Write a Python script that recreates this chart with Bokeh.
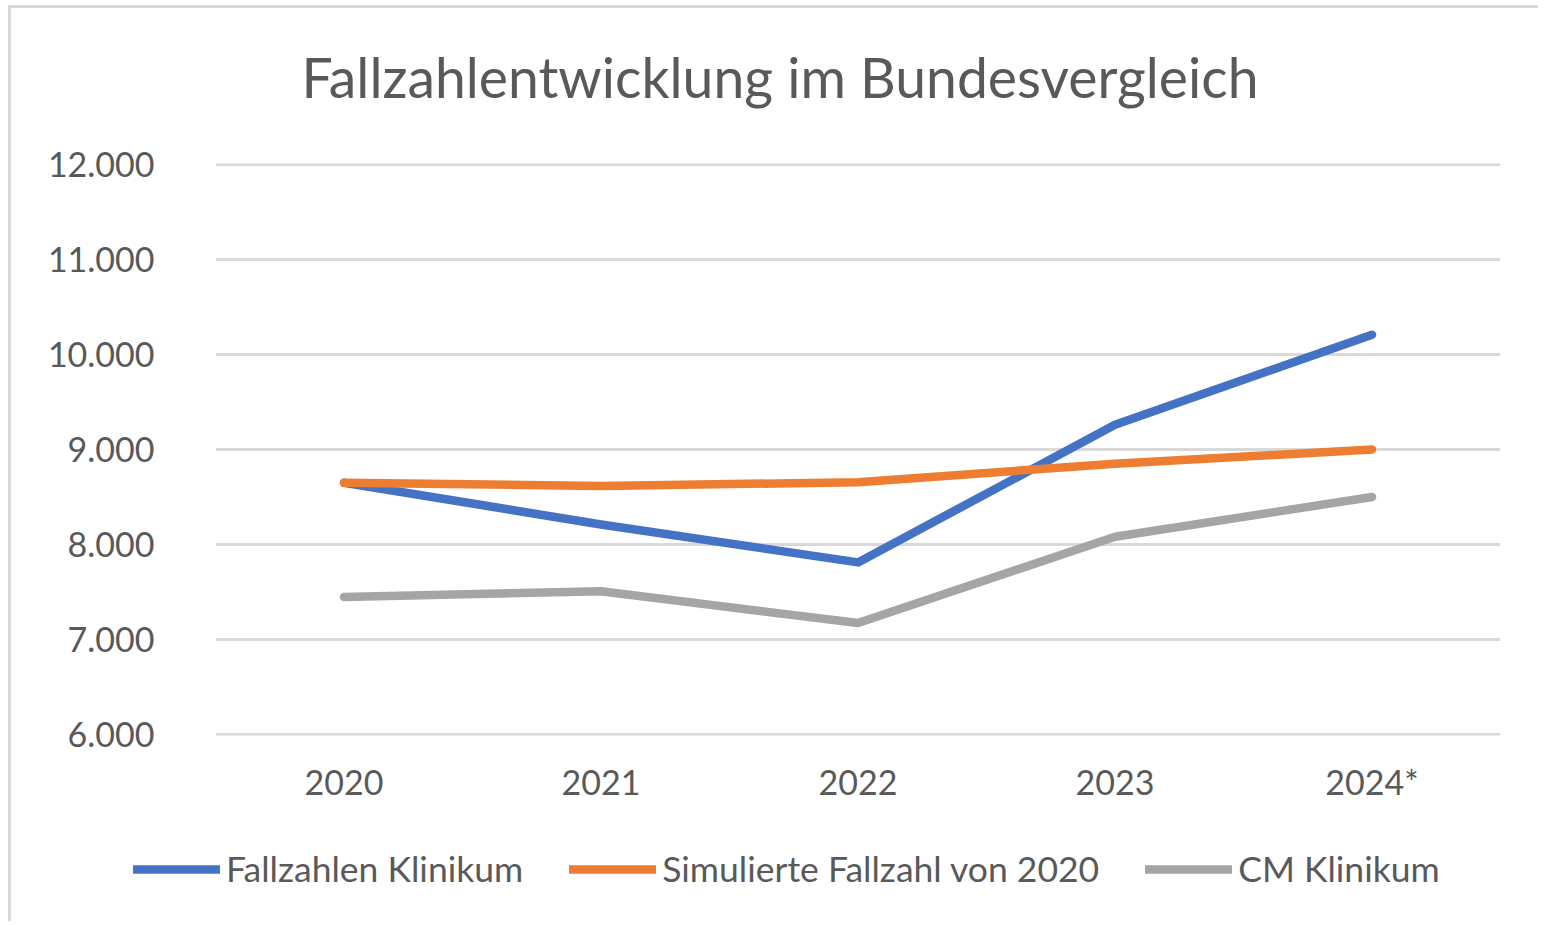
from bokeh.plotting import figure
from bokeh.models import FactorRange, Range1d, FixedTicker, Legend, LegendItem, Label
from bokeh.embed import file_html
from bokeh.resources import INLINE

title_text = "Fallzahlentwicklung im Bundesvergleich"
years = ["2020", "2021", "2022", "2023", "2024*"]
fallzahlen_klinikum = [8650, 8210, 7810, 9260, 10210]
simulierte_fallzahl = [8650, 8615, 8655, 8850, 9000]
cm_klinikum = [7445, 7505, 7170, 8080, 8500]
y_ticks = [6000, 7000, 8000, 9000, 10000, 11000, 12000]
y_tick_labels = ["6.000", "7.000", "8.000", "9.000", "10.000", "11.000", "12.000"]
series_names = ["Fallzahlen Klinikum", "Simulierte Fallzahl von 2020", "CM Klinikum"]
series_colors = ["#4472c4", "#ed7d31", "#a5a5a5"]

FONT = "Lato"
TEXT = "#595959"
GRID = "#d9d9d9"
LW = 8.5
W = 1530
BORDER = "3px solid #d9d9d9"


def strip(height):
    f = figure(width=W, height=height, output_backend="svg", toolbar_location=None,
               x_range=Range1d(0, 1), y_range=Range1d(0, 1),
               min_border_left=0, min_border_right=0, min_border_top=0, min_border_bottom=0)
    f.axis.visible = False
    f.grid.visible = False
    f.outline_line_color = None
    f.background_fill_color = "white"
    f.border_fill_color = "white"
    return f


# title strip
p0 = strip(119)
p0.styles = {"margin-left": "8px", "margin-top": "5px", "border-left": BORDER, "border-top": BORDER}
p0.add_layout(Label(x=290, y=51, x_units="screen", y_units="screen", text=title_text,
                    text_font=FONT, text_font_size="55.3px", text_color=TEXT,
                    text_align="left", text_baseline="alphabetic"))

# chart
p = figure(width=W, height=710, output_backend="svg", toolbar_location=None,
           x_range=FactorRange(*years, range_padding=0), y_range=Range1d(5985, 12015),
           min_border_left=204, min_border_right=41, min_border_top=39, min_border_bottom=99)
p.outline_line_color = None
p.background_fill_color = "white"
p.border_fill_color = "white"
p.styles = {"margin-left": "8px", "border-left": BORDER}

p.yaxis.ticker = FixedTicker(ticks=y_ticks)
p.yaxis.major_label_overrides = dict(zip(y_ticks, y_tick_labels))
for ax in (p.xaxis, p.yaxis):
    ax.axis_line_color = None
    ax.major_tick_line_color = None
    ax.minor_tick_line_color = None
    ax.major_tick_out = 0
    ax.major_tick_in = 0
    ax.major_label_text_font = FONT
    ax.major_label_text_font_size = "34px"
    ax.major_label_text_color = TEXT
p.yaxis.major_label_standoff = 61
p.xaxis.major_label_standoff = 25

p.xgrid.grid_line_color = None
p.ygrid.grid_line_color = GRID
p.ygrid.grid_line_width = 3

for vals, col in zip([fallzahlen_klinikum, simulierte_fallzahl, cm_klinikum], series_colors):
    p.line(years, vals, line_color=col, line_width=LW, line_cap="round", line_join="round")

# legend strip
p2 = strip(87)
p2.styles = {"margin-left": "8px", "border-left": BORDER}
items = []
for name, col in zip(series_names, series_colors):
    r = p2.line(x=[-5, -4], y=[-5, -5], line_color=col, line_width=LW, line_cap="round")
    items.append(LegendItem(label=name, renderers=[r]))
legend = Legend(items=items, orientation="horizontal", location=(122, 31),
                glyph_width=87, glyph_height=20, label_standoff=6, spacing=46,
                padding=0, margin=0, border_line_color=None, background_fill_alpha=0,
                label_text_font=FONT, label_text_font_size="35.5px", label_text_color=TEXT)
p2.add_layout(legend, "center")

open("out.html", "w").write(file_html([p0, p, p2], INLINE))
